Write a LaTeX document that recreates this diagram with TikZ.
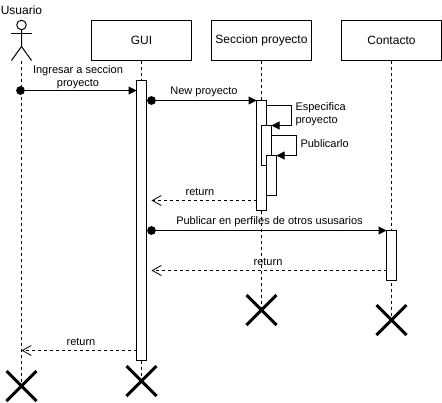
\documentclass[tikz,border=0pt]{standalone}
\usepackage{fontspec}
\setmainfont{Liberation Sans}
\usetikzlibrary{arrows.meta,positioning,shapes.misc}

\begin{document}
\begin{tikzpicture}[x=1pt,y=-1pt,line width=1pt,
  box node/.style={rectangle,draw,fill=white,minimum width=100pt,minimum height=40pt,inner sep=0pt,outer sep=0pt,font=\fontsize{12}{14}\selectfont},
  act node/.style={rectangle,draw,fill=white,minimum width=10pt,inner sep=0pt,outer sep=0pt,anchor=north},
  dot node/.style={circle,fill=black,minimum size=8.8pt,inner sep=0pt,outer sep=0pt},
  end node/.style={cross out,draw,line width=3pt,minimum size=30pt,inner sep=0pt,outer sep=0pt},
  msg node/.style={font=\fontsize{11}{13}\selectfont,align=center,inner sep=0pt},
  life/.style={dashed,dash pattern=on 3pt off 3pt},
  call/.style={-{Triangle[length=8pt,width=8pt]}},
  back/.style={life,-{Straight Barb[length=9pt,width=10pt,line width=0.8pt]}}]
  \useasboundingbox (0,0) rectangle (442,402);

  \node[box node] (GUI) at (141.5,40.5) {GUI};
  \node[box node] (S) at (261.5,40.5) {Seccion proyecto};
  \node[box node] (C) at (391.5,40.5) {Contacto};

  % actor
  \node[font=\fontsize{12}{14}\selectfont,inner sep=0pt] (U) at (21.5,10) {Usuario};
  \node[circle,draw,minimum size=9.5pt,inner sep=0pt,outer sep=0pt] (head) at (21.5,25) {};
  \coordinate (hip) at (21.5,46.5);
  \coordinate (base) at (21.5,60.5);
  \coordinate (armL) at (11,33.5);
  \coordinate (armR) at (32,33.5);
  \coordinate (footL) at (11.5,60.5);
  \coordinate (footR) at (31.5,60.5);
  \draw (head) -- (hip) -- (footL);
  \draw (hip) -- (footR);
  \draw (armL) -- (armR);

  \node[end node] (xU) at (21.5,386) {};
  \node[end node] (xG) at (141.5,381) {};
  \node[end node] (xS) at (261.5,310) {};
  \node[end node] (xC) at (391.5,320) {};

  \draw[life] (base) -- (xU.center);
  \draw[life] (GUI) -- (xG.center);
  \draw[life] (S) -- (xS.center);
  \draw[life] (C) -- (xC.center);

  \node[act node,minimum height=280pt] (aG) at (141.5,80.5) {};
  \node[act node,minimum height=110pt] (aS) at (261.5,100.5) {};
  \node[act node,minimum height=40pt] (aS2) at (266.5,125.5) {};
  \node[act node,minimum height=40pt] (aS3) at (271.5,155.5) {};
  \node[act node,minimum height=50pt] (aC) at (391.5,230.5) {};

  \node[dot node] (d1) at (20.5,90.5) {};
  \node[dot node] (d2) at (151.5,100.5) {};
  \node[dot node] (d3) at (151.5,230.5) {};

  \path [call] (d1) edge (aG.west |- d1);
  \path [call] (d2) edge (aS.west |- d2);
  \path [call] (d3) edge (aC.west |- d3);

  % self calls
  \coordinate (s1) at (266.5,105.5);
  \coordinate (s1b) at (291.5,125.5);
  \coordinate (s2) at (271.5,135.5);
  \coordinate (s2b) at (296.5,155.5);
  \draw[call] (s1) -| (s1b) -- (aS2.north east);
  \draw[call] (s2) -| (s2b) -- (aS3.north east);

  % returns
  \coordinate (r1) at (151.5,200.5);
  \coordinate (r2) at (151.5,270.5);
  \coordinate (r3) at (21.5,350.5);
  \path [back] (aS.west |- r1) edge (r1);
  \path [back] (aC.west |- r2) edge (r2);
  \path [back] (aG.west |- r3) edge (r3);

  \node[msg node] (m1) at (78,77) {Ingresar a seccion\\proyecto};
  \node[msg node] (m2) at (204,92) {New proyecto};
  \node[msg node,align=left,anchor=west] (m3) at (295,114) {Especifica\\proyecto};
  \node[msg node,anchor=west] (m4) at (300,144) {Publicarlo};
  \node[msg node] (m5) at (200,192) {return};
  \node[msg node] (m6) at (269.5,222) {Publicar en perfiles de otros ususarios};
  \node[msg node] (m7) at (268,262) {return};
  \node[msg node] (m8) at (81,342) {return};
\end{tikzpicture}
\end{document}
